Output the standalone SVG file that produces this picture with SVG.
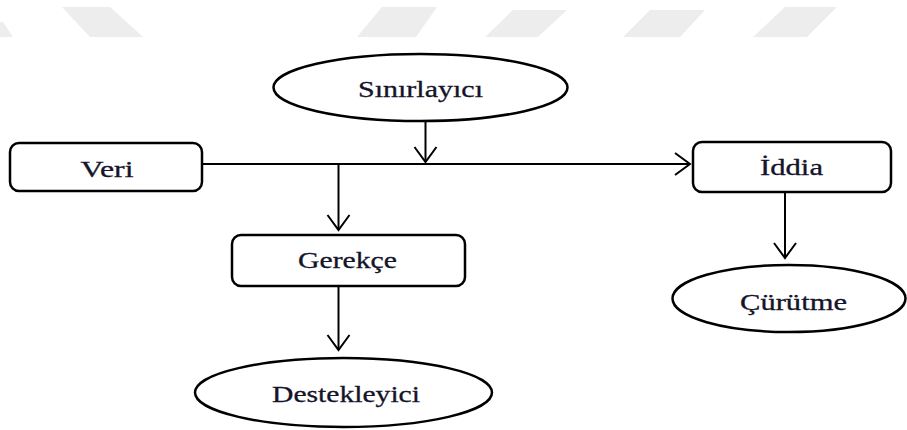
<svg xmlns="http://www.w3.org/2000/svg" width="907" height="430" viewBox="0 0 907 430">
  <style>
    .wm { fill: #ededed; stroke: none; }
    .box { fill: #ffffff; stroke: #000000; stroke-width: 2.5; }
    .ell { fill: #ffffff; stroke: #000000; stroke-width: 2.5; }
    .lbl { font-family: "Liberation Serif", "Times New Roman", serif; font-size: 23px; fill: #14142a; stroke: #14142a; stroke-width: 0.3; text-anchor: middle; }
    .con { fill: none; stroke: #000000; stroke-width: 2; }
  </style>
  <defs>
    <marker id="arrow" markerUnits="userSpaceOnUse" viewBox="-17 -13 19 26" markerWidth="19" markerHeight="26" refX="0" refY="0" orient="auto">
      <path d="M-15,-11 L0,0 L-15,11" fill="none" stroke="#000000" stroke-width="2"/>
    </marker>
  </defs>
  <rect x="0" y="0" width="907" height="430" fill="#ffffff"/>
  <g id="watermark">
    <polygon class="wm" points="0,22 3,22 13,37 0,37"/>
    <polygon class="wm" points="62,7 110,7 143,37 90,37"/>
    <polygon class="wm" points="382,7 437,7 416,37 357,37"/>
    <polygon class="wm" points="513,10 567,10 538,37 485,37"/>
    <polygon class="wm" points="650,10 705,10 680,37 623,37"/>
    <polygon class="wm" points="785,7 837,7 807,37 753,37"/>
  </g>
  <g id="connectors">
    <path class="con" d="M202,164 H690" marker-end="url(#arrow)"/>
    <path class="con" d="M425.5,121 V162" marker-end="url(#arrow)"/>
    <path class="con" d="M338.5,164 V230" marker-end="url(#arrow)"/>
    <path class="con" d="M338.5,286 V350" marker-end="url(#arrow)"/>
    <path class="con" d="M785,192 V258" marker-end="url(#arrow)"/>
  </g>
  <g id="sinirlayici">
    <ellipse class="ell" cx="420.5" cy="87.5" rx="147" ry="33.5"/>
    <text class="lbl" x="420.5" y="97" textLength="125" lengthAdjust="spacingAndGlyphs">Sınırlayıcı</text>
  </g>
  <g id="veri">
    <rect class="box" x="10" y="143" width="192" height="48" rx="9"/>
    <text class="lbl" x="107" y="176.5" textLength="53" lengthAdjust="spacingAndGlyphs">Veri</text>
  </g>
  <g id="iddia">
    <rect class="box" x="693" y="142" width="198" height="50" rx="9"/>
    <text class="lbl" x="791.5" y="175" textLength="63" lengthAdjust="spacingAndGlyphs">İddia</text>
  </g>
  <g id="gerekce">
    <rect class="box" x="232" y="235" width="233" height="51" rx="9"/>
    <text class="lbl" x="347.5" y="268" textLength="99" lengthAdjust="spacingAndGlyphs">Gerekçe</text>
  </g>
  <g id="curutme">
    <ellipse class="ell" cx="789" cy="298.5" rx="116.5" ry="33.5"/>
    <text class="lbl" x="793.5" y="310" textLength="107" lengthAdjust="spacingAndGlyphs">Çürütme</text>
  </g>
  <g id="destekleyici">
    <ellipse class="ell" cx="343.5" cy="392.5" rx="148.5" ry="34.5"/>
    <text class="lbl" x="346" y="402" textLength="148" lengthAdjust="spacingAndGlyphs">Destekleyici</text>
  </g>
</svg>
